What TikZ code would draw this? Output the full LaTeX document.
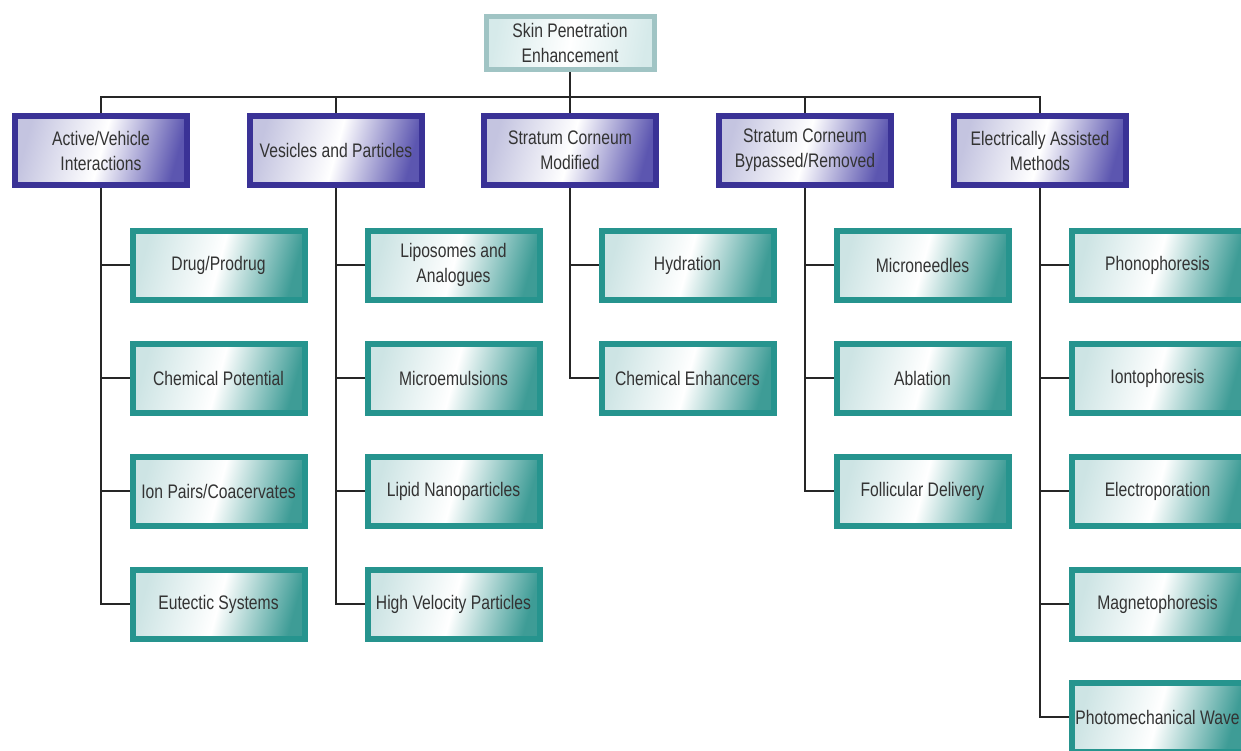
\documentclass[tikz,border=0pt]{standalone}
\usepackage{fontspec}
\setmainfont{Liberation Sans}[FakeStretch=0.8]
\usepackage{xcolor}
\usepackage{tikz}
\usetikzlibrary{positioning}

\definecolor{catedge}{RGB}{58,50,150}
\definecolor{catleft}{RGB}{196,196,224}
\definecolor{catright}{RGB}{92,86,176}
\definecolor{leafedge}{RGB}{38,148,142}
\definecolor{leafleft}{RGB}{205,228,228}
\definecolor{leafright}{RGB}{62,156,150}
\definecolor{rootedge}{RGB}{160,196,196}
\definecolor{rootfill}{RGB}{214,234,234}

\tikzset{link/.style = {draw=black!85, line width=1.2pt}}

\begin{document}
\begin{tikzpicture}[x=0.5pt,y=-0.5pt,node distance=56.5pt,
    box/.style={rectangle,align=center,text=black!80,
      font=\fontsize{9.8}{12.5}\selectfont,inner sep=0pt},
    root node/.style={box,draw=rootedge,line width=2.5pt,minimum width=84pt,minimum height=26.5pt,
      left color=rootfill,right color=rootfill,middle color=white,shading angle=80},
    cat node/.style={box,draw=catedge,line width=3pt,minimum width=86pt,minimum height=34.5pt,
      left color=catleft,right color=catright,middle color=white,shading angle=75},
    leaf node/.style={box,draw=leafedge,line width=3pt,minimum width=86pt,minimum height=34.5pt,
      left color=leafleft,right color=leafright,middle color=white,shading angle=75}]
    \useasboundingbox (0,0) rectangle (1241,750);

    \node[root node] (root) at (570,43) {Skin Penetration\\Enhancement};
    \coordinate (bus) at (570,97);

    \node[cat node] (act) at (101,150.5) {Active/Vehicle\\Interactions};
    \node[cat node] (ves) at (336,150.5) {Vesicles and Particles};
    \node[cat node] (scm) at (570,150.5) {Stratum Corneum\\Modified};
    \node[cat node] (scb) at (805,150.5) {Stratum Corneum\\Bypassed/Removed};
    \node[cat node] (ele) at (1040,150.5) {Electrically Assisted\\Methods};

    % active/vehicle
    \node[leaf node] (act1) at (218.5,265) {Drug/Prodrug};
    \node[leaf node] (act2) [below of=act1] {Chemical Potential};
    \node[leaf node] (act3) [below of=act2] {Ion Pairs/Coacervates};
    \node[leaf node] (act4) [below of=act3] {Eutectic Systems};

    % vesicles
    \node[leaf node] (ves1) at (453.5,265) {Liposomes and\\Analogues};
    \node[leaf node] (ves2) [below of=ves1] {Microemulsions};
    \node[leaf node] (ves3) [below of=ves2] {Lipid Nanoparticles};
    \node[leaf node] (ves4) [below of=ves3] {High Velocity Particles};

    % stratum corneum modified
    \node[leaf node] (scm1) at (687.5,265) {Hydration};
    \node[leaf node] (scm2) [below of=scm1] {Chemical Enhancers};

    % stratum corneum bypassed
    \node[leaf node] (scb1) at (922.5,265) {Microneedles};
    \node[leaf node] (scb2) [below of=scb1] {Ablation};
    \node[leaf node] (scb3) [below of=scb2] {Follicular Delivery};

    % electrical
    \node[leaf node] (ele1) at (1157.5,265) {Phonophoresis};
    \node[leaf node] (ele2) [below of=ele1] {Iontophoresis};
    \node[leaf node] (ele3) [below of=ele2] {Electroporation};
    \node[leaf node] (ele4) [below of=ele3] {Magnetophoresis};
    \node[leaf node] (ele5) [below of=ele4] {Photomechanical Wave};

    \path[link]
        (root.south) -- (bus)
        (act.north) -- (act |- bus) -- (ele |- bus) -- (ele.north)
        (ves.north) -- (ves |- bus)
        (scm.north) -- (scm |- bus)
        (scb.north) -- (scb |- bus)
        ;
    \path[link]
        (act.south) |- (act4.west)
        (act |- act1) -- (act1.west) (act |- act2) -- (act2.west) (act |- act3) -- (act3.west)
        (ves.south) |- (ves4.west)
        (ves |- ves1) -- (ves1.west) (ves |- ves2) -- (ves2.west) (ves |- ves3) -- (ves3.west)
        (scm.south) |- (scm2.west)
        (scm |- scm1) -- (scm1.west)
        (scb.south) |- (scb3.west)
        (scb |- scb1) -- (scb1.west) (scb |- scb2) -- (scb2.west)
        (ele.south) |- (ele5.west)
        (ele |- ele1) -- (ele1.west) (ele |- ele2) -- (ele2.west) (ele |- ele3) -- (ele3.west)
        (ele |- ele4) -- (ele4.west)
        ;
\end{tikzpicture}
\end{document}
